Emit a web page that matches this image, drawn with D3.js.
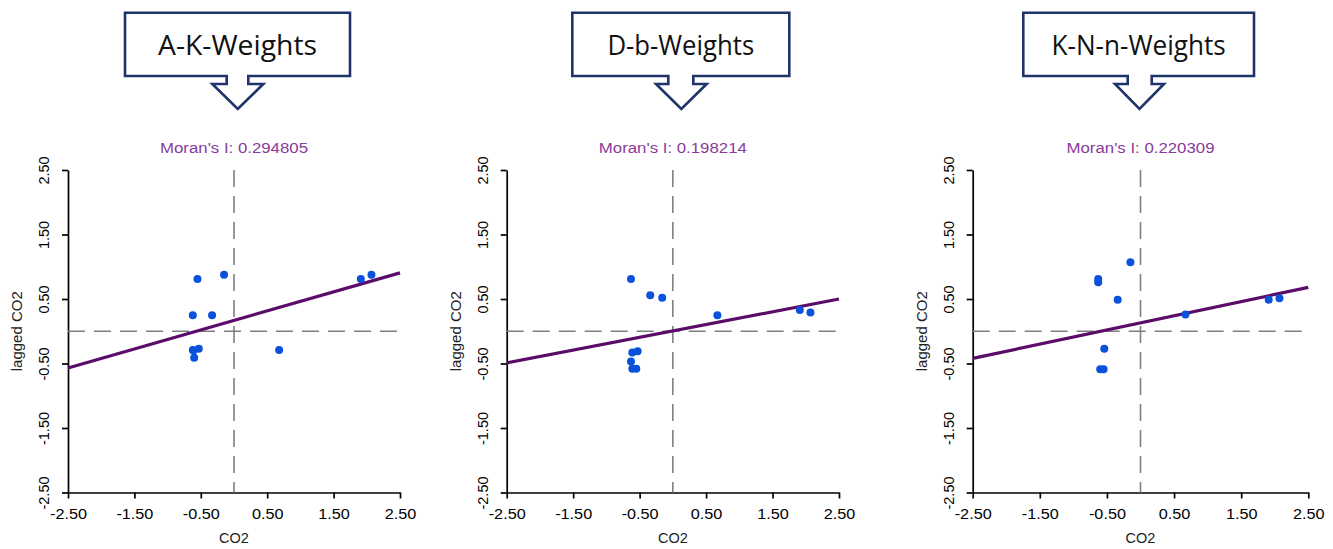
<!DOCTYPE html>
<html><head><meta charset="utf-8">
<script src="https://cdn.jsdelivr.net/npm/d3@7"></script>
<style>body{margin:0;background:#fff}svg{display:block}</style>
</head><body>
<svg id="c" width="1333" height="549"></svg>
<script>
// ---- data ----
const panelNames = ["A-K-Weights", "D-b-Weights", "K-N-n-Weights"];
const moranI = [0.294805, 0.198214, 0.220309];
const lineIntercepts = [0.168, 0.005, 0.13];
const tickValues = [-2.5, -1.5, -0.5, 0.5, 1.5, 2.5];
const tickLabels = ["-2.50", "-1.50", "-0.50", "0.50", "1.50", "2.50"];
const akX  = [-0.62, -0.62, -0.61, -0.60, -0.55, -0.53, -0.33, -0.15, 0.68, 1.91, 2.07];
const akY  = [0.25, -0.29, -0.30, -0.41, 0.81, -0.27, 0.25, 0.876, -0.29, 0.81, 0.876];
const dbX  = [-0.63, -0.63, -0.61, -0.61, -0.55, -0.53, -0.34, -0.16, 0.67, 1.91, 2.07];
const dbY  = [0.81, -0.47, -0.33, -0.58, -0.58, -0.31, 0.56, 0.52, 0.25, 0.33, 0.29];
const knnX = [-0.63, -0.63, -0.60, -0.55, -0.54, -0.34, -0.15, 0.67, 1.91, 2.07];
const knnY = [0.81, 0.76, -0.59, -0.59, -0.27, 0.49, 1.07, 0.26, 0.49, 0.51];
const seriesX = [akX, dbX, knnX];
const seriesY = [akY, dbY, knnY];

// ---- layout ----
const svg = d3.select("#c");
const plotL = [68, 506.7, 972.7], plotR = [400, 839, 1308.3];
const plotT = 170, plotB = 492.5;
const boxL = [125, 572.3, 1023.3], boxR = [350, 789.3, 1254];
const stemL = [226.7, 668.3, 1127.7], stemR = [248.3, 693.3, 1151.7];
const headL = [212.3, 656, 1115], headR = [263.3, 706.7, 1164];
const txtW = [159, 146.7, 174.3];
const boxT = 12.7, boxB = 76, headY = 84, tipY = 109;
const navy = "#1f3468";

panelNames.forEach((name, i) => {
  // callout
  const tip = (headL[i] + headR[i]) / 2;
  const p = d3.path();
  p.moveTo(boxL[i], boxT); p.lineTo(boxR[i], boxT); p.lineTo(boxR[i], boxB);
  p.lineTo(stemR[i], boxB); p.lineTo(stemR[i], headY); p.lineTo(headR[i], headY);
  p.lineTo(tip, tipY); p.lineTo(headL[i], headY); p.lineTo(stemL[i], headY);
  p.lineTo(stemL[i], boxB); p.lineTo(boxL[i], boxB); p.closePath();
  svg.append("path").attr("d", p.toString()).attr("fill", "#fff")
    .attr("stroke", navy).attr("stroke-width", 2.6).attr("stroke-linejoin", "miter");
  svg.append("text").attr("x", (boxL[i] + boxR[i]) / 2).attr("y", 54.5)
    .attr("text-anchor", "middle").attr("font-family", "Open Sans, Noto Sans, sans-serif")
    .attr("font-size", 27).attr("fill", "#111")
    .attr("textLength", txtW[i]).attr("lengthAdjust", "spacingAndGlyphs").text(name);

  // scales
  const x = d3.scaleLinear().domain([-2.5, 2.5]).range([plotL[i], plotR[i]]);
  const y = d3.scaleLinear().domain([-2.5, 2.5]).range([plotB, plotT]);
  const g = svg.append("g");
  const font = "Liberation Sans, Arial, sans-serif";

  // axes
  const xAxis = d3.axisBottom(x).tickValues(tickValues).tickFormat((d, k) => tickLabels[k]).tickSize(6).tickSizeOuter(0);
  const gx = g.append("g").attr("transform", `translate(0,${plotB})`).call(xAxis);
  gx.select(".domain").attr("stroke", "#000").attr("stroke-width", 1.7);
  gx.selectAll(".tick line").attr("stroke", "#000").attr("stroke-width", 1.7);
  gx.selectAll(".tick text").attr("font-family", font).attr("font-size", 14.5).attr("fill", "#000")
    .attr("y", 0).attr("dy", 0)
    .attr("transform", "translate(0,26) scale(1.12,1)");

  const yAxis = d3.axisLeft(y).tickValues(tickValues).tickFormat((d, k) => tickLabels[k]).tickSize(6).tickSizeOuter(0);
  const gy = g.append("g").attr("transform", `translate(${plotL[i]},0)`).call(yAxis);
  gy.select(".domain").attr("stroke", "#000").attr("stroke-width", 1.7);
  gy.selectAll(".tick line").attr("stroke", "#000").attr("stroke-width", 1.7);
  gy.selectAll(".tick text").attr("font-family", font).attr("font-size", 14.5).attr("fill", "#000")
    .attr("x", 0).attr("dy", 0).attr("text-anchor", "middle")
    .attr("transform", "translate(-19,0) rotate(-90)");

  // dashed reference lines
  g.append("line").attr("x1", x(-2.5)).attr("x2", x(2.5)).attr("y1", y(0)).attr("y2", y(0))
    .attr("stroke", "#7f7f7f").attr("stroke-width", 1.6).attr("stroke-dasharray", "17,9");
  g.append("line").attr("x1", x(0)).attr("x2", x(0)).attr("y1", y(2.5)).attr("y2", y(-2.5))
    .attr("stroke", "#7f7f7f").attr("stroke-width", 1.6).attr("stroke-dasharray", "17,9");

  // regression line
  const line = d3.line().x(d => x(d)).y(d => y(lineIntercepts[i] + moranI[i] * d));
  g.append("path").attr("d", line([-2.5, 2.5])).attr("fill", "none")
    .attr("stroke", "#5a0c68").attr("stroke-width", 3.2);

  // points
  const pts = seriesX[i].map((v, k) => [v, seriesY[i][k]]);
  g.selectAll("circle.pt").data(pts).join("circle").attr("class", "pt")
    .attr("cx", d => x(d[0])).attr("cy", d => y(d[1])).attr("r", 4).attr("fill", "#0a52dc");

  // titles
  g.append("text").attr("x", x(0)).attr("y", 153).attr("text-anchor", "middle")
    .attr("font-family", font).attr("font-size", 14).attr("fill", "#8a3a9c")
    .attr("textLength", 148).attr("lengthAdjust", "spacingAndGlyphs")
    .text("Moran's I: " + moranI[i].toFixed(6));
  g.append("text").attr("x", x(0)).attr("y", 543).attr("text-anchor", "middle")
    .attr("font-family", font).attr("font-size", 14.5).attr("fill", "#222")
    .attr("transform", null)
    .text("CO2");
  g.append("text").attr("transform", `translate(${plotL[i] - 46},${y(0)}) rotate(-90)`)
    .attr("text-anchor", "middle").attr("font-family", font).attr("font-size", 15).attr("fill", "#222")
    .text("lagged CO2");
});
</script>
</body></html>
